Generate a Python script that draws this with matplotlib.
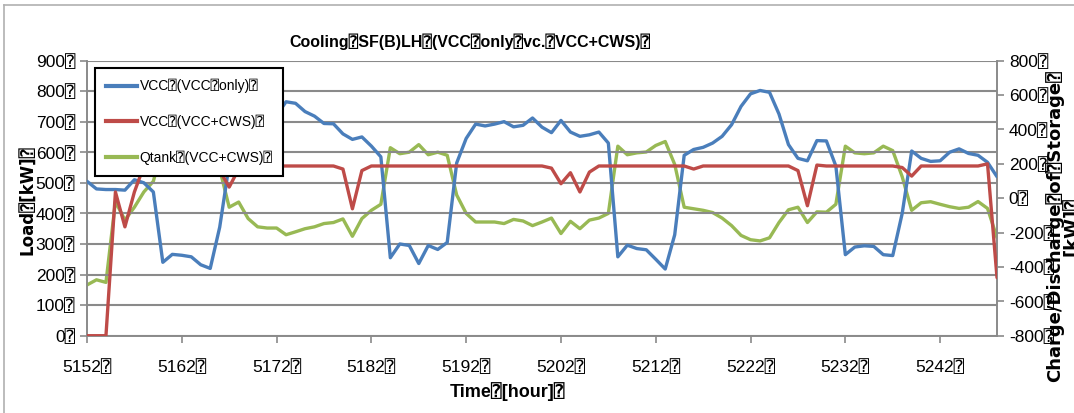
import numpy as np
import matplotlib
matplotlib.use('Agg')
import matplotlib.pyplot as plt
from matplotlib.lines import Line2D

# hourly values, hour 5152 .. 5248
hours = np.arange(5152, 5249)

vcc_only = [505, 480, 478, 478, 476, 510, 500, 470, 240, 266,
            263, 258, 232, 220, 355, 560, 665, 705, 715, 722,
            721, 765, 760, 733, 718, 694, 693, 660, 642, 650,
            620, 585, 255, 300, 295, 236, 295, 282, 305, 565,
            645, 692, 686, 692, 700, 683, 688, 712, 682, 664,
            704, 666, 652, 657, 666, 630, 258, 296, 285, 281,
            250, 218, 330, 590, 609, 616, 630, 652, 690, 750,
            791, 802, 796, 725, 625, 580, 572, 638, 637, 555,
            265, 290, 294, 292, 265, 262, 400, 604, 580, 570,
            572, 600, 611, 596, 590, 567, 520]

vcc_cws = [0, 0, 0, 470, 356, 470, 555, 555, 555, 555,
           555, 555, 555, 555, 540, 486, 545, 555, 555, 555,
           555, 555, 555, 555, 555, 555, 555, 545, 415, 540,
           555, 555, 555, 555, 555, 555, 555, 555, 555, 555,
           555, 555, 555, 555, 555, 555, 555, 555, 555, 548,
           497, 533, 470, 535, 555, 555, 555, 555, 555, 555,
           555, 555, 555, 555, 545, 555, 555, 555, 555, 555,
           555, 555, 555, 555, 555, 540, 425, 558, 555, 555,
           555, 555, 555, 555, 555, 555, 550, 522, 555, 555,
           555, 555, 555, 555, 555, 562, 190]

qtank = [-505, -475, -490, -20, -128, -53, 36, 98, 302, 284,
         288, 293, 320, 329, 169, -53, -23, -119, -167, -174,
         -174, -213, -196, -178, -167, -148, -142, -121, -222, -119,
         -71, -36, 293, 258, 267, 311, 252, 267, 249, 18,
         -89, -139, -139, -139, -148, -124, -133, -160, -139, -116,
         -206, -135, -178, -128, -116, -89, 302, 252, 263, 268,
         306, 329, 196, -53, -62, -71, -84, -116, -160, -217,
         -242, -249, -231, -142, -68, -53, -142, -80, -82, -36,
         302, 263, 258, 263, 302, 276, 124, -71, -27, -21,
         -36, -50, -60, -53, -20, -60, -230]

Q = '\u2370'
title = f'Cooling{Q}SF(B)LH{Q}(VCC{Q}only{Q}vc.{Q}VCC+CWS){Q}'
names = [f'VCC{Q}(VCC{Q}only){Q}', f'VCC{Q}(VCC+CWS){Q}', f'Qtank{Q}(VCC+CWS){Q}']
xticks = np.arange(5152, 5243, 10)
left_ticks = np.arange(0, 901, 100)
right_ticks = np.arange(-800, 801, 200)

fam = ['Liberation Sans', 'DejaVu Sans', 'DejaVu Sans Mono']
bold_fam = ['DejaVu Sans', 'DejaVu Sans Mono']
blue, red, green = '#4a7ebb', '#be4b48', '#98b954'
grey = '#8a8a8a'

fig = plt.figure(figsize=(10.74, 4.13), dpi=100)
ax = fig.add_axes([87/1074, 1-335.7/413, 910/1074, 275.2/413])
ax2 = ax.twinx()

ax.plot(hours, vcc_only, color=blue, lw=2.4, solid_capstyle='round', zorder=3)
ax.plot(hours, vcc_cws, color=red, lw=2.4, solid_capstyle='round', zorder=3)
ax2.plot(hours, qtank, color=green, lw=2.4, solid_capstyle='round', zorder=3)

ax.set_xlim(5152, 5248)
ax.set_ylim(0, 900)
ax2.set_ylim(-800, 800)

ax.set_yticks(left_ticks)
ax.set_yticklabels([f'{v}{Q}' for v in left_ticks], family=fam, fontsize=12.5)
ax2.set_yticks(right_ticks)
ax2.set_yticklabels([f'{v}{Q}' for v in right_ticks], family=fam, fontsize=12.5)
ax.set_xticks(xticks)
ax.set_xticklabels([f'{v}{Q}' for v in xticks], family=fam, fontsize=12.5)

ax.grid(axis='y', color=grey, lw=1.5)
ax.set_axisbelow(True)
for a in (ax, ax2):
    a.spines['top'].set_visible(False)
    for s in ('left', 'right', 'bottom'):
        a.spines[s].set_color(grey)
        a.spines[s].set_linewidth(1.2)
    a.tick_params(colors=grey, length=5, width=1.2, labelcolor='black')
ax.tick_params(axis='x', pad=12)
ax2.set_zorder(-1)
ax.set_zorder(2)
ax.patch.set_visible(False)

fig.text(470/1074, 1-42/413, title, ha='center', va='center',
         family=fam, fontsize=11.5, fontweight='bold')
fig.text(27/1074, 1-200/413, f'Load{Q}[kW]{Q}', ha='center', va='center',
         rotation=90, family=bold_fam, fontsize=12, fontweight='bold')
fig.text(508/1074, 1-392/413, f'Time{Q}[hour]{Q}', ha='center', va='center',
         family=fam, fontsize=13, fontweight='bold')
fig.text(1063/1074, 1-226/413, f'Charge/Discharge{Q}of{Q}Storage{Q}\n[kW]{Q}',
         ha='center', va='center', rotation=90, multialignment='center',
         family=bold_fam, fontsize=13, fontweight='bold', linespacing=0.95)

handles = [Line2D([], [], color=c, lw=3) for c in (blue, red, green)]
leg = ax.legend(handles, names, loc='upper left', bbox_to_anchor=(8/910, 1-7.5/275.2),
                prop={'family': fam, 'size': 10}, frameon=True, fancybox=False,
                handlelength=2.2, handletextpad=0.2, labelspacing=1.55,
                borderpad=0.8, borderaxespad=0, framealpha=1)
leg.get_frame().set_edgecolor('black')
leg.get_frame().set_facecolor('white')
leg.get_frame().set_linewidth(1.5)
leg.set_zorder(5)

# outer frame of the chart area
fig.add_artist(Line2D([4/1074, 4/1074], [0, 1-5/413], color='#b0b0b0', lw=1.2))
fig.add_artist(Line2D([4/1074, 1], [1-5/413, 1-5/413], color='#b0b0b0', lw=1.2))

fig.savefig('out.png', dpi=100)
